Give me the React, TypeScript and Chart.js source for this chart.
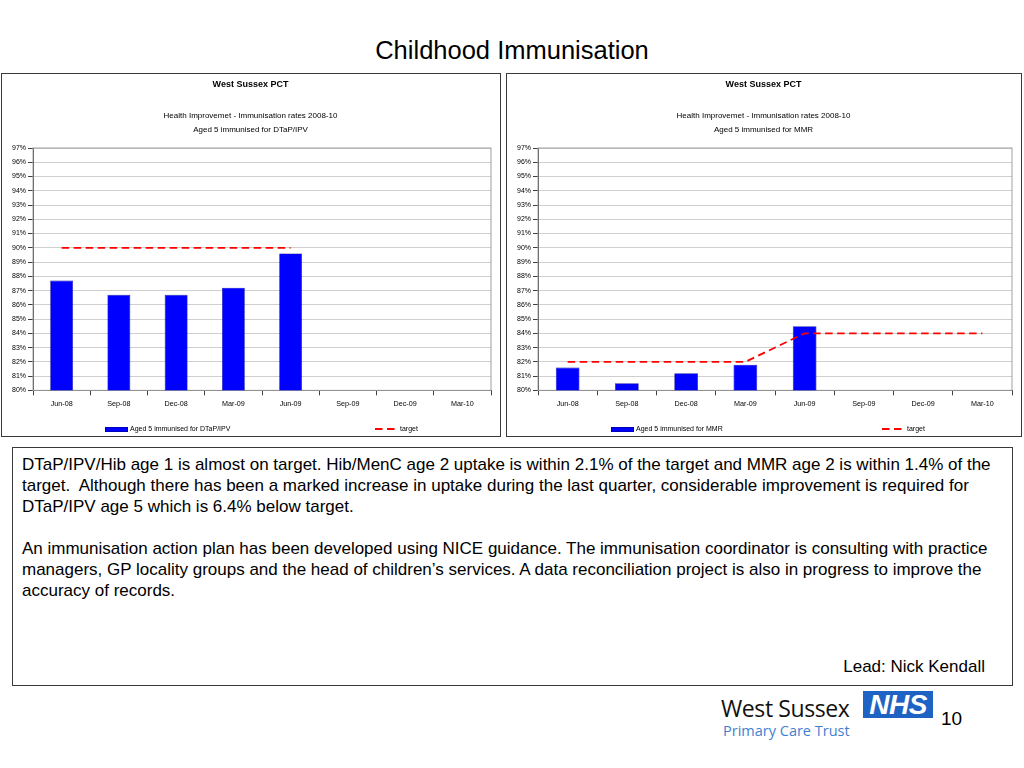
import React, { useEffect, useRef } from "react";
import { Chart, registerables } from "chart.js";

Chart.register(...registerables);

const categories = ["Jun-08", "Sep-08", "Dec-08", "Mar-09", "Jun-09", "Sep-09", "Dec-09", "Mar-10"];
const dtapValues = [87.7, 86.7, 86.7, 87.2, 89.6, null, null, null];
const dtapTarget = [90, 90, 90, 90, 90, null, null, null];
const mmrValues = [81.6, 80.5, 81.2, 81.8, 84.5, null, null, null];
const mmrTarget = [82, 82, 82, 82, 84, 84, 84, 84];
const yMin = 80;
const yMax = 97;
const yStep = 1;
const targetLabel = "target";
const chartTitle = "West Sussex PCT";
const chartSubtitle = "Health Improvemet - Immunisation rates 2008-10";

const NARROW = "'Liberation Sans Narrow', 'Arial Narrow', 'Liberation Sans', Arial, sans-serif";
const SANS = "'Liberation Sans', Arial, sans-serif";

const BAR_BLUE = "#0000ff";
const BAR_EDGE = "#000080";
const TARGET_RED = "#ff0000";
const TARGET_DASH = [7.5, 4.5];

const plotBorder = {
  id: "plotBorder",
  beforeDatasetsDraw(chart: any) {
    const { ctx, chartArea } = chart;
    ctx.save();
    ctx.strokeStyle = "#a0a0a0";
    ctx.lineWidth = 1;
    ctx.strokeRect(chartArea.left, chartArea.top, chartArea.right - chartArea.left, chartArea.bottom - chartArea.top);
    ctx.restore();
  },
};

type PanelProps = {
  width: number;
  height: number;
  subtitle: string;
  barLabel: string;
  values: (number | null)[];
  target: (number | null)[];
  padLeft: number;
  padRight: number;
};

function Panel(props: PanelProps) {
  const ref = useRef<HTMLCanvasElement | null>(null);
  useEffect(() => {
    if (!ref.current) return;
    const chart = new Chart(ref.current, {
      type: "bar",
      data: {
        labels: categories,
        datasets: [
          {
            type: "bar",
            label: props.barLabel,
            data: props.values,
            backgroundColor: BAR_BLUE,
            borderColor: BAR_EDGE,
            borderWidth: 0.6,
            barPercentage: 0.4,
            categoryPercentage: 1,
            order: 2,
          },
          {
            type: "line",
            label: targetLabel,
            data: props.target,
            borderColor: TARGET_RED,
            backgroundColor: TARGET_RED,
            borderWidth: 1.8,
            borderDash: TARGET_DASH,
            pointRadius: 0,
            fill: false,
            tension: 0,
            spanGaps: false,
            order: 1,
          },
        ] as any,
      },
      options: {
        animation: false,
        responsive: false,
        maintainAspectRatio: false,
        devicePixelRatio: 1,
        layout: { padding: { left: props.padLeft, right: props.padRight, top: 0, bottom: 23 } },
        plugins: {
          tooltip: { enabled: false },
          legend: { display: false },
          title: {
            display: true,
            text: chartTitle,
            color: "#000",
            font: { family: NARROW, size: 9, weight: "bold", lineHeight: 1.2 },
            padding: { top: 5, bottom: 0 },
          },
          subtitle: {
            display: true,
            text: [chartSubtitle, props.subtitle],
            color: "#000",
            font: { family: NARROW, size: 8, lineHeight: 1.75 },
            padding: { top: 18.7, bottom: 11.5 },
          },
        },
        scales: {
          x: {
            offset: true,
            grid: {
              offset: true,
              drawOnChartArea: false,
              drawTicks: true,
              tickLength: 5,
              tickColor: "#404040",
            },
            border: { display: true, color: "#404040", width: 1 },
            ticks: {
              color: "#000",
              font: { family: NARROW, size: 7.2 },
              maxRotation: 0,
              autoSkip: false,
              padding: 4,
            },
          },
          y: {
            min: yMin,
            max: yMax,
            grid: {
              color: "#cfcfcf",
              lineWidth: 1,
              drawTicks: true,
              tickLength: 5,
              tickColor: "#404040",
            },
            border: { display: true, color: "#404040", width: 1 },
            ticks: {
              stepSize: yStep,
              autoSkip: false,
              color: "#000",
              font: { family: NARROW, size: 7 },
              padding: 2,
              callback: (v: any) => `${v}%`,
            },
          },
        },
      } as any,
      plugins: [plotBorder],
    });
    return () => chart.destroy();
  }, []);
  return (
    <canvas
      ref={ref}
      width={props.width}
      height={props.height}
      style={{ width: props.width, height: props.height, display: "block" }}
    />
  );
}

type LegendProps = {
  barLabel: string;
  barX: number;
  targetX: number;
};

function Legend(props: LegendProps) {
  const textStyle: React.CSSProperties = {
    position: "absolute",
    top: -5,
    fontFamily: SANS,
    fontSize: 7,
    lineHeight: "10px",
    color: "#000",
    whiteSpace: "nowrap",
  };
  return (
    <div style={{ position: "absolute", left: 0, top: 355, width: "100%", height: 10 }}>
      <div
        style={{
          position: "absolute",
          left: props.barX,
          top: -2.5,
          width: 23,
          height: 5,
          background: BAR_BLUE,
          boxShadow: `inset 0 0 0 0.6px ${BAR_EDGE}`,
        }}
      />
      <div style={{ ...textStyle, left: props.barX + 25 }}>{props.barLabel}</div>
      <svg
        width={21}
        height={4}
        style={{ position: "absolute", left: props.targetX, top: -2 }}
      >
        <line x1={0} y1={2} x2={21} y2={2} stroke={TARGET_RED} strokeWidth={1.8} strokeDasharray={TARGET_DASH.join(",")} />
      </svg>
      <div style={{ ...textStyle, left: props.targetX + 25 }}>{targetLabel}</div>
    </div>
  );
}

const boxStyle = (left: number, width: number): React.CSSProperties => ({
  position: "absolute",
  left,
  top: 73,
  width,
  height: 364,
  border: "1.5px solid #3a3a3a",
  boxSizing: "border-box",
  background: "#fff",
  overflow: "hidden",
});

export default function App() {
  useEffect(() => {
    document.body.style.margin = "0";
  }, []);
  return (
    <div
      style={{
        position: "absolute",
        left: 0,
        top: 0,
        width: 1024,
        height: 768,
        background: "#fff",
        fontFamily: SANS,
        overflow: "hidden",
      }}
    >
      <div
        style={{
          position: "absolute",
          left: 0,
          width: 1024,
          top: 35,
          textAlign: "center",
          fontSize: 25.5,
          lineHeight: "30px",
          color: "#000",
        }}
      >
        Childhood Immunisation
      </div>

      <div style={boxStyle(1, 500)}>
        <Panel
          width={497}
          height={361}
          subtitle="Aged 5 immunised for DTaP/IPV"
          barLabel="Aged 5 immunised for DTaP/IPV"
          values={dtapValues}
          target={dtapTarget}
          padLeft={8}
          padRight={8}
        />
        <Legend barLabel="Aged 5 immunised for DTaP/IPV" barX={103} targetX={373} />
      </div>
      <div style={boxStyle(506, 516)}>
        <Panel
          width={513}
          height={361}
          subtitle="Aged 5 immunised for MMR"
          barLabel="Aged 5 immunised for MMR"
          values={mmrValues}
          target={mmrTarget}
          padLeft={8}
          padRight={8}
        />
        <Legend barLabel="Aged 5 immunised for MMR" barX={104} targetX={375} />
      </div>

      <div
        style={{
          position: "absolute",
          left: 12,
          top: 447,
          width: 1001,
          height: 239,
          border: "1.5px solid #3a3a3a",
          boxSizing: "border-box",
          padding: "6px 0 0 9px",
          fontSize: 17,
          lineHeight: "21px",
          color: "#000",
          whiteSpace: "nowrap",
        }}
      >
        <div>DTaP/IPV/Hib age 1 is almost on target. Hib/MenC age 2 uptake is within 2.1% of the target and MMR age 2 is within 1.4% of the</div>
        <div>target.&nbsp; Although there has been a marked increase in uptake during the last quarter, considerable improvement is required for</div>
        <div>DTaP/IPV age 5 which is 6.4% below target.</div>
        <div>&nbsp;</div>
        <div>An immunisation action plan has been developed using NICE guidance. The immunisation coordinator is consulting with practice</div>
        <div>managers, GP locality groups and the head of children’s services. A data reconciliation project is also in progress to improve the</div>
        <div>accuracy of records.</div>
        <div style={{ position: "absolute", right: 27, top: 208 }}>Lead: Nick Kendall</div>
      </div>

      <div
        style={{
          position: "absolute",
          left: 721,
          top: 695,
          fontFamily: "'Open Sans', 'Noto Sans', sans-serif",
          fontSize: 23,
          lineHeight: "26px",
          color: "#111",
          letterSpacing: -0.4,
        }}
      >
        West Sussex
      </div>
      <div
        style={{
          position: "absolute",
          left: 723,
          top: 721,
          fontFamily: "'Open Sans', 'Noto Sans', sans-serif",
          fontSize: 14.5,
          lineHeight: "20px",
          color: "#3f7fd0",
        }}
      >
        Primary Care Trust
      </div>
      <div
        style={{
          position: "absolute",
          left: 863,
          top: 691,
          width: 70,
          height: 27,
          background: "#1e62c4",
          color: "#fff",
          fontFamily: SANS,
          fontWeight: "bold",
          fontStyle: "italic",
          fontSize: 28,
          lineHeight: "27px",
          textAlign: "center",
          letterSpacing: -0.5,
        }}
      >
        NHS
      </div>
      <div
        style={{
          position: "absolute",
          left: 941,
          top: 708,
          fontFamily: SANS,
          fontSize: 19,
          color: "#000",
        }}
      >
        10
      </div>
    </div>
  );
}
